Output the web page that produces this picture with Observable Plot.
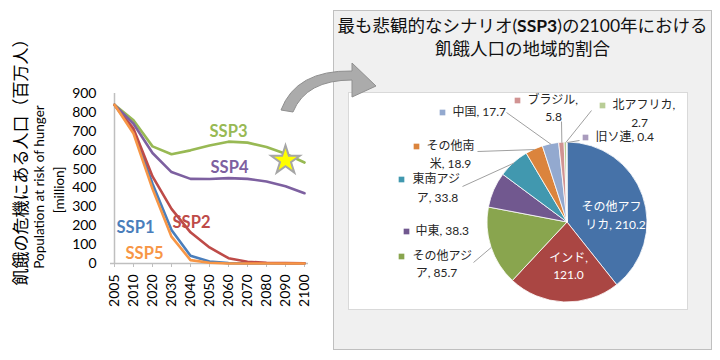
<!DOCTYPE html>
<html><head><meta charset="utf-8">
<script src="https://cdn.jsdelivr.net/npm/d3@7"></script>
<script src="https://cdn.jsdelivr.net/npm/@observablehq/plot@0.6"></script>
<style>
body{margin:0;background:#fff;}
#root{position:relative;width:720px;height:360px;overflow:hidden;font-family:Lato,"Noto Sans CJK JP",sans-serif;color:#000;}
.abs{position:absolute;}
.rot{position:absolute;transform:translate(-50%,-50%) rotate(-90deg);white-space:nowrap;}
</style></head><body><div id="root"></div>
<script>
// ---------- data ----------
const years = ["2005","2010","2020","2030","2040","2050","2060","2070","2080","2090","2100"];
const ssp1 = [840,702,422,177,41,11,2,0,0,0,0];
const ssp2 = [840,714,461,289,165,85,28,9,4,2,1];
const ssp3 = [840,758,620,578,599,625,645,640,617,581,534.5];
const ssp4 = [840,740,585,484,448,447,452,448,434,409,372];
const ssp5 = [840,688,395,142,18,4,0,0,0,0,0];
const seriesNames = ["SSP1","SSP2","SSP3","SSP4","SSP5"];
const seriesColors = ["#4A7EBB","#BE4B48","#98B954","#7D60A0","#F79646"];
const yTicks = [0,100,200,300,400,500,600,700,800,900];
const starYear = "2090", starValue = 546;

const regions = ["その他アフリカ","インド","その他アジア","中東","東南アジア","その他南米","中国","ブラジル","北アフリカ","旧ソ連"];
const regionValues = [210.2,121.0,85.7,38.3,33.8,18.9,17.7,5.8,2.7,0.4];
const regionColors = ["#4672A8","#AA4643","#89A54E","#71588F","#4198AF","#DB843D","#93A9CF","#D19392","#B9CD96","#A99BBD"];

// ---------- layout (not data) ----------
const sspLabelLayout = [
  {series:"SSP1", year:"2010", value:190, dx:2},
  {series:"SSP2", year:"2040", value:216, dx:1},
  {series:"SSP3", year:"2060", value:700, dx:0},
  {series:"SSP4", year:"2060", value:508, dx:1},
  {series:"SSP5", year:"2020", value:52,  dx:-8}
];
// pie label layout in local pie-svg pixels: marker, line1 (start), line2 (middle), leader start
const PIE_CX = 219, PIE_CY = 130, PIE_R = 80;
const pieLabelLayout = [
  {region:"その他アフリカ", inside:true, brk:5, l1:[263,115], l2:[267,133]},
  {region:"インド", inside:true, brk:4, l1:[220,166], l2:[220,183]},
  {region:"その他アジア", brk:5, m:[53,164], l1:[64,164], l2:[88,181], lead:[125,170]},
  {region:"中東", m:[58,139], l1:[67,139]},
  {region:"東南アジア", brk:4, m:[53,87], l1:[64,87], l2:[89,106], lead:[114,94]},
  {region:"その他南米", brk:4, m:[68,54], l1:[78,54], l2:[102,72], lead:[129,59]},
  {region:"中国", m:[94,20], l1:[104,20], lead:[158,20]},
  {region:"ブラジル", brk:5, m:[169,8], l1:[179,8], l2:[205,25], lead:[213,29]},
  {region:"北アフリカ", brk:6, m:[254,13], l1:[264,13], l2:[291,31], lead:[243,18]},
  {region:"旧ソ連", m:[237,45], l1:[247,45], lead:[231,48]}
];

const root = document.getElementById("root");
const FONT = 'Lato,"Noto Sans CJK JP",sans-serif';

// ---------- left line chart ----------
const seriesValues = [ssp1,ssp2,ssp3,ssp4,ssp5];
const lineData = seriesNames.flatMap((s,k) => years.map((yr,i) => ({series:s, year:yr, value:seriesValues[k][i]})));

const left = Plot.plot({
  width:330, height:360,
  marginLeft:110, marginRight:22, marginTop:93, marginBottom:97,
  style:{fontFamily:FONT, fontSize:"14px", color:"#000", background:"transparent", overflow:"visible"},
  x:{type:"point", domain:years, padding:0, axis:null},
  y:{domain:[0,900], axis:null},
  color:{domain:seriesNames, range:seriesColors},
  marks:[
    Plot.axisY({ticks:yTicks, tickSize:0, tickPadding:14, label:null, fill:"#000"}),
    Plot.axisX({tickRotate:-90, tickSize:4, tickPadding:7, label:null, stroke:"#bfbfbf", fill:"#000"}),
    Plot.ruleX([years[0]], {stroke:"#bfbfbf", strokeWidth:1.5}),
    Plot.ruleY([0], {stroke:"#bfbfbf", strokeWidth:1.5}),
    Plot.line(lineData, {x:"year", y:"value", z:"series", stroke:"series", strokeWidth:2.6}),
    ...sspLabelLayout.map(l => Plot.text([l], {x:"year", y:"value", text:"series", fill:"series", dx:l.dx, fontSize:16.5, fontWeight:"bold"})),
    Plot.dot([{year:starYear, value:starValue}], {x:"year", y:"value", symbol:"star", r:9, fill:"#ffff00", stroke:"#a6a6a6", strokeWidth:2})
  ]
});
left.style.position = "absolute"; left.style.left = "0px"; left.style.top = "0px";
root.appendChild(left);

// y-axis titles
function addDiv(cls, html, css){ const d=document.createElement("div"); d.className=cls; d.innerHTML=html; Object.assign(d.style, css); root.appendChild(d); return d; }
addDiv("rot", "飢餓の危機にある人口（百万人）", {left:"19px", top:"158px", fontSize:"17px", fontFamily:'"Noto Sans CJK JP",sans-serif'});
addDiv("rot", "Population at risk of hunger", {left:"39px", top:"187px", fontSize:"13.5px"});
addDiv("rot", "[million]", {left:"59px", top:"190px", fontSize:"13.5px"});

// ---------- right panel ----------
addDiv("abs", "", {left:"333px", top:"10px", width:"379px", height:"340px", boxSizing:"border-box", background:"#f0f0f0", border:"1.5px solid #bfbfbf"});
addDiv("abs", "最も悲観的なシナリオ(<b>SSP3</b>)の2100年における<br>飢餓人口の地域的割合",
  {left:"333px", top:"14px", width:"379px", textAlign:"center", fontSize:"17.5px", lineHeight:"23px", color:"#111"});
addDiv("abs", "", {left:"348px", top:"92px", width:"340px", height:"218px", boxSizing:"border-box", background:"#fff", border:"1px solid #d9d9d9"});

const pieData = regions.map((r,i) => ({region:r, value:regionValues[i]}));
const arcs = d3.pie().sort(null).value(d => d.value)(pieData);
const colorScale = Plot.scale({color:{type:"ordinal", domain:regions, range:regionColors}});
const arcByRegion = new Map(arcs.map(a => [a.data.region, a]));
const edgePoint = a => { const m=(a.startAngle+a.endAngle)/2; return [PIE_CX + PIE_R*Math.sin(m), PIE_CY - PIE_R*Math.cos(m)]; };

const labelText = L => { const v = regionValues[regions.indexOf(L.region)]; return `${L.region}, ${v.toFixed(1)}`; };
const line1 = [], line2 = [], markers = [], leaders = [];
for (const L of pieLabelLayout) {
  const full = labelText(L);
  const t1 = L.brk ? full.slice(0, L.brk).trim() : full;
  const t2 = L.brk ? full.slice(L.brk).trim() : null;
  const inside = !!L.inside;
  if (inside) {
    line2.push({x:L.l1[0], y:L.l1[1], text:t1, fill:"#ffffff"});
    line2.push({x:L.l2[0], y:L.l2[1], text:t2, fill:"#ffffff"});
  } else {
    line1.push({x:L.l1[0], y:L.l1[1], text:t1, fill:"#262626"});
    if (t2) line2.push({x:L.l2[0], y:L.l2[1], text:t2, fill:"#262626"});
    markers.push({x:L.m[0], y:L.m[1], region:L.region});
    if (L.lead) { const e = edgePoint(arcByRegion.get(L.region)); leaders.push({x1:L.lead[0], y1:L.lead[1], x2:e[0], y2:e[1]}); }
  }
}

const pieMark = () => {
  const arc = d3.arc().innerRadius(0).outerRadius(PIE_R);
  const g = d3.create("svg:g").attr("transform", `translate(${PIE_CX},${PIE_CY})`);
  g.selectAll("path").data(arcs).join("path")
    .attr("d", arc).attr("fill", d => colorScale.apply(d.data.region))
    .attr("stroke", "#fff").attr("stroke-width", 0.8);
  return g.node();
};

const pie = Plot.plot({
  width:340, height:218, margin:0,
  style:{fontFamily:FONT, fontSize:"12px", background:"transparent", overflow:"visible"},
  x:{type:"identity", axis:null}, y:{type:"identity", axis:null},
  color:{type:"ordinal", domain:regions, range:regionColors},
  marks:[
    pieMark,
    Plot.link(leaders, {x1:"x1", y1:"y1", x2:"x2", y2:"y2", stroke:"#a0a0a0", strokeWidth:1}),
    Plot.dot(markers, {x:"x", y:"y", fill:"region", symbol:"square", r:3.2, stroke:null}),
    Plot.text(line1, {x:"x", y:"y", text:"text", fill:d=>d.fill, textAnchor:"start", fontSize:12}),
    Plot.text(line2, {x:"x", y:"y", text:"text", fill:d=>d.fill, textAnchor:"middle", fontSize:12})
  ]
});
pie.style.position = "absolute"; pie.style.left = "348px"; pie.style.top = "92px";
root.appendChild(pie);

// decorative arrow
const ns = "http://www.w3.org/2000/svg";
const arrow = document.createElementNS(ns, "svg");
arrow.setAttribute("width", 720); arrow.setAttribute("height", 360);
Object.assign(arrow.style, {position:"absolute", left:"0px", top:"0px", pointerEvents:"none"});
arrow.innerHTML = '<path d="M 281 110 Q 296 70 352 71 L 352 63 L 376 86 L 352 97 L 352 80 Q 306 80 293 112 Z" fill="#ababab" stroke="#8f8f8f" stroke-width="1"/>';
root.appendChild(arrow);
</script>
</body></html>
